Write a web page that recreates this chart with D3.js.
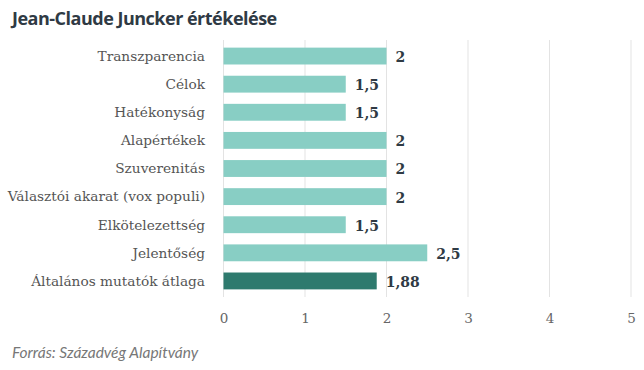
<!DOCTYPE html>
<html>
<head>
<meta charset="utf-8">
<script src="https://cdn.jsdelivr.net/npm/d3@7"></script>
<style>
    body { margin: 0; background: #fff; }
    svg { display: block; }
</style>
</head>
<body>
<svg id="chart" width="644" height="370"></svg>
<script>
"use strict";

const categories = [
    "Transzparencia",
    "Célok",
    "Hatékonyság",
    "Alapértékek",
    "Szuverenitás",
    "Választói akarat (vox populi)",
    "Elkötelezettség",
    "Jelentőség",
    "Általános mutatók átlaga",
];
const values = [2, 1.5, 1.5, 2, 2, 2, 1.5, 2.5, 1.88];
const valueLabels = ["2", "1,5", "1,5", "2", "2", "2", "1,5", "2,5", "1,88"];
const tickValues = [0, 1, 2, 3, 4, 5];

const LIGHT = "#88cec4";
const DARK = "#2e7a6e";
const SERIF = "'DejaVu Serif', 'Liberation Serif', serif";

const svg = d3.select("#chart");

svg.append("text")
    .attr("x", 12)
    .attr("y", 25)
    .attr("font-family", "'Open Sans', sans-serif")
    .attr("font-weight", 700)
    .attr("font-size", 18)
    .attr("letter-spacing", -0.5)
    .attr("fill", "#2f3a44")
    .text("Jean-Claude Juncker értékelése");

const x = d3.scaleLinear().domain([0, 5]).range([223.5, 631]);
const y = d3.scaleBand().domain(categories).range([42, 295]).paddingInner(0.4).paddingOuter(0.2);

// gridlines
svg.append("g")
    .selectAll("line")
    .data(tickValues)
    .join("line")
    .attr("x1", (d) => x(d))
    .attr("x2", (d) => x(d))
    .attr("y1", 40)
    .attr("y2", 297)
    .attr("stroke", "#e3e3e3")
    .attr("stroke-width", 1);

// bars
svg.append("g")
    .selectAll("rect")
    .data(values)
    .join("rect")
    .attr("x", x(0))
    .attr("y", (d, i) => y(categories[i]))
    .attr("width", (d) => x(d) - x(0))
    .attr("height", y.bandwidth())
    .attr("fill", (d, i) => (i === categories.length - 1 ? DARK : LIGHT));

// category labels
svg.append("g")
    .selectAll("text")
    .data(categories)
    .join("text")
    .attr("x", 205)
    .attr("y", (d) => y(d) + y.bandwidth() / 2)
    .attr("dy", "0.35em")
    .attr("text-anchor", "end")
    .attr("font-family", SERIF)
    .attr("font-size", 13.7)
    .attr("fill", "#555")
    .text((d) => d);

// value labels
svg.append("g")
    .selectAll("text")
    .data(values)
    .join("text")
    .attr("x", (d) => x(d) + 9)
    .attr("y", (d, i) => y(categories[i]) + y.bandwidth() / 2 + 1)
    .attr("dy", "0.35em")
    .attr("font-family", SERIF)
    .attr("font-weight", 700)
    .attr("font-size", 14)
    .attr("fill", "#2f3a44")
    .text((d, i) => valueLabels[i]);

// axis
const xAxis = d3.axisBottom(x).tickValues(tickValues).tickSize(0).tickPadding(0).tickFormat(d3.format("d"));
const axisG = svg.append("g")
    .attr("transform", "translate(0, 318)")
    .call(xAxis);
axisG.select(".domain").remove();
axisG.selectAll("text")
    .attr("font-family", SERIF)
    .attr("font-size", 13.5)
    .attr("fill", "#666")
    .attr("dy", "0.35em");

svg.append("text")
    .attr("x", 12)
    .attr("y", 358)
    .attr("font-family", "Lato, sans-serif")
    .attr("font-style", "italic")
    .attr("font-size", 15.5)
    .attr("fill", "#777")
    .text("Forrás: Századvég Alapítvány");
</script>
</body>
</html>
